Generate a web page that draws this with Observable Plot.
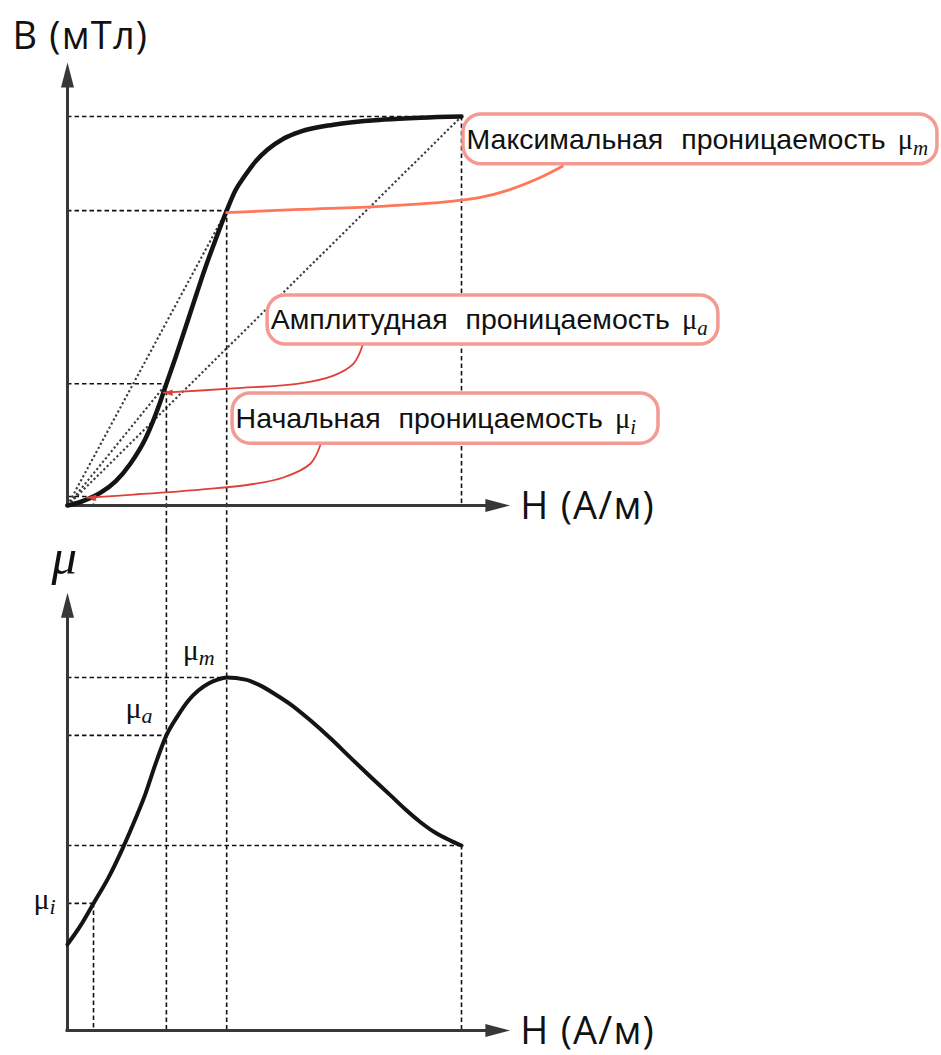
<!DOCTYPE html>
<html>
<head>
<meta charset="utf-8">
<script src="https://cdn.jsdelivr.net/npm/d3@7"></script>
<script src="https://cdn.jsdelivr.net/npm/@observablehq/plot@0.6"></script>
<style>
  body { margin: 0; background: #fff; }
  #chart svg { display: block; }
</style>
</head>
<body>
<div id="chart"></div>
<script>
// ---- Data -------------------------------------------------------------
// Magnetization curve B(H), field in relative units (0 … 10), induction in relative units
const fieldH     = [0, 0.33, 0.66, 0.84, 1.22, 1.60, 1.98, 2.36, 2.51, 2.74, 3.12, 3.50, 3.76, 4.04, 4.26, 4.47, 4.77, 5.08, 5.48, 5.91, 6.75, 8.02, 8.96, 10];
const inductionB = [0, 0.09, 0.23, 0.33, 0.62, 1.08, 1.72, 2.68, 3.13, 3.80, 4.96, 6.12, 6.84, 7.58, 8.10, 8.43, 8.84, 9.15, 9.43, 9.61, 9.79, 9.92, 9.97, 10];

// Permeability curve μ(H), μ in relative units (maximum = 100)
const muFieldH = [0, 0.33, 0.66, 1.04, 1.40, 1.73, 1.98, 2.23, 2.51, 2.79, 3.07, 3.32, 3.58, 3.81, 4.04, 4.52, 4.90, 5.28, 5.66, 6.17, 6.68, 7.18, 7.69, 8.20, 8.58, 8.96, 9.34, 9.72, 10];
const muValues = [24.4, 29.7, 36.0, 43.3, 51.6, 60.1, 67.1, 75.4, 83.6, 89.0, 93.5, 96.3, 98.3, 99.4, 100, 99.4, 97.7, 95.2, 92.4, 87.8, 82.7, 77.3, 71.9, 66.6, 62.6, 59.0, 56.0, 53.8, 52.4];

// Characteristic points: initial, amplitude, maximum, saturation
const pointNames = ["i", "a", "m", "s"];
const pointH  = [0.66, 2.51, 4.04, 10];
const pointB  = [0.23, 3.13, 7.58, 10];
const pointMu = [36.0, 83.6, 100, 52.4];

// Texts
const noteLabels = ["Максимальная проницаемость", "Амплитудная проницаемость", "Начальная проницаемость"];
const noteSubs   = ["m", "a", "i"];
const titleB  = "B (мТл)";
const titleH  = "H (А/м)";
const titleMu = "μ";
const muSymbol = "μ";

// ---- Layout -----------------------------------------------------------
const W = 941;
const topLayout    = {height: 530, marginLeft: 67, marginRight: 480, marginTop: 116, marginBottom: 25};
const bottomLayout = {height: 525, marginLeft: 67, marginRight: 480, marginTop: 147, marginBottom: 25};
const hDomain = [0, 10], bDomain = [0, 10], muDomain = [0, 100];

const hPerPx  = (hDomain[1] - hDomain[0]) / (W - topLayout.marginLeft - topLayout.marginRight);
const bPerPx  = (bDomain[1] - bDomain[0]) / (topLayout.height - topLayout.marginTop - topLayout.marginBottom);
const muPerPx = (muDomain[1] - muDomain[0]) / (bottomLayout.height - bottomLayout.marginTop - bottomLayout.marginBottom);

// lower edge of the upper panel / upper edge of the lower panel, in data units
const topEdgeB     = -topLayout.marginBottom * bPerPx;
const bottomEdgeMu = (bottomLayout.height - bottomLayout.marginBottom) * muPerPx;

// axis arrow tips
const tipH  = 11.24;
const tipB  = 11.39;
const tipMu = 124;

// annotation boxes (H/B units) and their leader routes
const noteBoxes = [
  {x1: 10.05, x2: 22.08, y1: 8.77, y2: 10.05},
  {x1: 5.08,  x2: 16.52, y1: 4.14, y2: 5.40},
  {x1: 4.19,  x2: 15.00, y1: 1.59, y2: 2.88}
];
const leaderMax = [[5.91, 7.61], [7.94, 7.69], [9.47, 7.79], [10.48, 7.92], [11.17, 8.10], [12.0, 8.43], [12.56, 8.72]];
const leaderAmp = [[7.49, 4.12], [7.26, 3.65], [6.75, 3.34], [5.91, 3.14], [4.21, 3.01], [2.44, 2.90]];
const leaderIni = [[6.42, 1.56], [6.17, 1.08], [5.48, 0.72], [4.64, 0.54], [3.38, 0.41], [1.68, 0.28], [0.50, 0.20]];

// ---- Records built from the arrays --------------------------------------
const bhCurve = fieldH.map((h, i) => ({h, b: inductionB[i]}));
const muCurve = muFieldH.map((h, i) => ({h, mu: muValues[i]}));
const points  = pointNames.map((name, i) => ({name, h: pointH[i], b: pointB[i], mu: pointMu[i]}));
const crossing = p => p.name === "a" || p.name === "m";
const pt = Object.fromEntries(points.map(p => [p.name, p]));

const leaders = [
  ...[[pt.m.h, pt.m.b - 0.05], ...leaderMax].map(([h, b]) => ({k: "m", h, b})),
  ...leaderAmp.map(([h, b]) => ({k: "a", h, b})),
  ...leaderIni.map(([h, b]) => ({k: "i", h, b}))
];
const leaderTips = [
  {h: leaderAmp[leaderAmp.length - 1][0], b: leaderAmp[leaderAmp.length - 1][1]},
  {h: leaderIni[leaderIni.length - 1][0], b: leaderIni[leaderIni.length - 1][1]}
];
const notes = noteBoxes.map((box, i) => ({...box, label: noteLabels[i], sub: noteSubs[i]}));

// ---- Styles ---------------------------------------------------------------
const ink = "#141414";
const axisInk = "#383838";
const dashed = {stroke: "#111", strokeWidth: 1.6, strokeDasharray: "4.5,3"};
const dotted = {stroke: "#3c3c3c", strokeWidth: 2.1, strokeDasharray: "2.2,2.4"};
const axisHead = {draw(ctx) { ctx.moveTo(0, 0); ctx.lineTo(6.5, 25); ctx.lineTo(-6.5, 25); ctx.closePath(); }};
const leaderHead = {draw(ctx) { ctx.moveTo(0, 0); ctx.lineTo(3.2, 9); ctx.lineTo(-3.2, 9); ctx.closePath(); }};
const titleFont = {fontFamily: "Open Sans", fontSize: 38, fill: "#111"};

function axes(tipY, perPxY) {
  return [
    Plot.ruleX([0], {y1: 0, y2: tipY - 12 * perPxY, stroke: axisInk, strokeWidth: 3}),
    Plot.ruleY([0], {x1: -1.5 * hPerPx, x2: tipH - 12 * hPerPx, stroke: axisInk, strokeWidth: 3}),
    Plot.dot([{h: 0, y: tipY}], {x: "h", y: "y", symbol: axisHead, fill: axisInk, stroke: "none"}),
    Plot.dot([{h: tipH, y: 0}], {x: "h", y: "y", symbol: axisHead, rotate: 90, fill: axisInk, stroke: "none"}),
    Plot.text([titleH], {x: tipH, y: 0, text: d => d, dx: 10, dy: 13, textAnchor: "start", lineAnchor: "bottom", ...titleFont})
  ];
}

// ---- Upper panel: B(H) ----------------------------------------------------
const topChart = Plot.plot({
  width: W, ...topLayout,
  x: {domain: hDomain, axis: null},
  y: {domain: bDomain, axis: null},
  marks: [
    Plot.link(points.filter(p => p.name !== "i"), {x1: 0, y1: 0, x2: "h", y2: "b", ...dotted}),
    Plot.ruleY(points, {y: "b", x1: 0, x2: "h", ...dashed}),
    Plot.ruleX(points, {x: "h", y1: "b", y2: p => crossing(p) ? topEdgeB : 0, ...dashed}),
    ...axes(tipB, bPerPx),
    Plot.line(bhCurve, {x: "h", y: "b", curve: "monotone-x", stroke: ink, strokeWidth: 4.5}),
    Plot.line(leaders.filter(d => d.k === "m"), {x: "h", y: "b", curve: "catmull-rom", stroke: "#ff7658", strokeWidth: 2.8}),
    Plot.line(leaders.filter(d => d.k !== "m"), {x: "h", y: "b", z: "k", curve: "catmull-rom", stroke: "#e0403a", strokeWidth: 1.8}),
    Plot.dot(leaderTips, {x: "h", y: "b", symbol: leaderHead, rotate: -90, fill: "#e0403a", stroke: "none"}),
    Plot.rect(notes, {x1: "x1", x2: "x2", y1: "y1", y2: "y2", rx: 18, fill: "white", stroke: "#f29a93", strokeWidth: 3.5}),
    Plot.text(notes, {x: "x1", y: d => (d.y1 + d.y2) / 2, text: "label", dx: 3, textAnchor: "start", lineAnchor: "middle",
      fontFamily: "Liberation Sans", fontSize: 28.5, fill: "#111"}),
    Plot.text([titleB], {x: 0, y: tipB, text: d => d, dx: -55, dy: -13, textAnchor: "start", lineAnchor: "bottom", ...titleFont})
  ]
});

// ---- Lower panel: μ(H) ----------------------------------------------------
const labelOffsets = {i: {x: 0, dx: -34, dy: 6}, a: {dx: -41, dy: -17}, m: {dx: -44, dy: -18}};
const labelled = points.filter(p => p.name !== "s");

const bottomChart = Plot.plot({
  width: W, ...bottomLayout,
  x: {domain: hDomain, axis: null},
  y: {domain: muDomain, axis: null},
  marks: [
    Plot.ruleY(points, {y: "mu", x1: 0, x2: "h", ...dashed}),
    Plot.ruleX(points, {x: "h", y1: p => crossing(p) ? bottomEdgeMu : p.mu, y2: 0, ...dashed}),
    ...axes(tipMu, muPerPx),
    Plot.line(muCurve, {x: "h", y: "mu", curve: "monotone-x", stroke: ink, strokeWidth: 4}),
    ...labelled.map(p => Plot.text([p], {
      x: labelOffsets[p.name].x ?? "h", y: "mu", text: () => muSymbol,
      dx: labelOffsets[p.name].dx, dy: labelOffsets[p.name].dy, textAnchor: "start", lineAnchor: "bottom",
      fontFamily: "Liberation Serif", fontSize: 30, fill: "#111"
    })),
    Plot.text([titleMu], {x: 0, y: tipMu, text: d => d, dx: -16, dy: -19, textAnchor: "start", lineAnchor: "bottom",
      fontFamily: "Liberation Serif", fontStyle: "italic", fontSize: 51, fill: "#111"})
  ]
});

// ---- Text details: subscripts, word and letter spacing ----------------------
d3.select(topChart).selectAll("text").each(function() {
  const k = noteLabels.indexOf(this.textContent);
  if (k < 0) return;
  const t = d3.select(this).attr("word-spacing", 10);
  t.append("tspan").attr("font-family", "Liberation Serif").attr("dx", 12).text(muSymbol);
  t.append("tspan").attr("font-family", "Liberation Serif").attr("font-style", "italic")
    .attr("font-size", 21).attr("dy", 6).text(noteSubs[k]);
});

const muLabels = d3.select(bottomChart).selectAll("text").filter(function() {
  const g = this.closest("[font-size]");
  return this.textContent === muSymbol && g && +g.getAttribute("font-size") === 30;
});
muLabels.each(function(_, j) {
  d3.select(this).append("tspan").attr("font-style", "italic").attr("font-size", 22).attr("dy", 5).text(labelled[j].name);
});

for (const chart of [topChart, bottomChart]) {
  d3.select(chart).selectAll("text")
    .filter(function() { return this.textContent === titleB || this.textContent === titleH; })
    .attr("letter-spacing", 1.2);
}

document.getElementById("chart").append(topChart, bottomChart);
</script>
</body>
</html>
